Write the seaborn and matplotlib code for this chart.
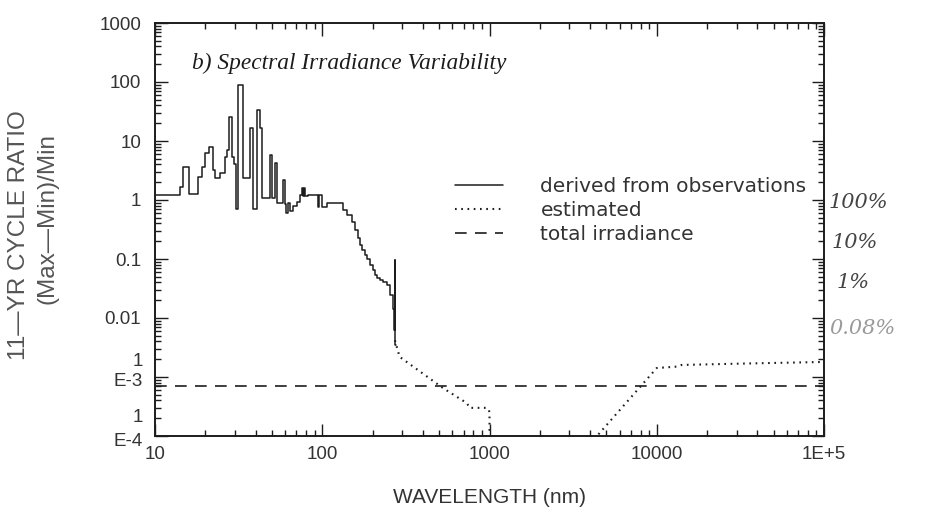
import matplotlib
matplotlib.use("Agg")
import matplotlib.pyplot as plt
from matplotlib.lines import Line2D
from matplotlib.transforms import offset_copy
from matplotlib.ticker import LogLocator, FixedLocator, FixedFormatter, NullFormatter
import seaborn as sns

# ---------------- data ----------------
obs_wavelength = [10.0, 14.1, 14.7, 16.0, 18.1, 19.1, 19.9, 21.0, 22.2, 22.8,
                  24.5, 26.2, 26.9, 27.7, 28.9, 29.6, 30.5, 31.4, 33.6, 37.0,
                  38.7, 40.7, 42.5, 43.6, 48.7, 50.1, 52.2, 53.6, 58.3, 59.9,
                  61.0, 62.0, 64.2, 66.9, 70.6, 73.6, 75.7, 76.5, 77.8, 78.5,
                  82.2, 94.3, 96.0, 99.7, 101, 107, 133, 141, 151, 157,
                  164, 168, 173, 180, 185, 193, 201, 207, 213, 221,
                  231, 244, 254, 265, 269, 271.0, 271.6, 272.5, 276]
obs_ratio = [1.22, 1.66, 3.6, 1.26, 2.46, 3.6, 6.3, 7.9, 3.2, 2.36,
             2.87, 5.4, 7.0, 25.5, 5.4, 4.0, 0.7, 89, 2.36, 16.6,
             0.7, 33.5, 16.6, 1.1, 5.8, 1.1, 4.2, 0.9, 2.2, 0.85,
             0.6, 0.9, 0.65, 0.8, 0.92, 1.2, 1.6, 1.15, 1.6, 1.15,
             1.2, 0.76, 1.2, 0.76, 0.76, 0.89, 0.68, 0.56, 0.42, 0.31,
             0.23, 0.17, 0.14, 0.117, 0.1, 0.08, 0.065, 0.054, 0.048, 0.044,
             0.041, 0.036, 0.025, 0.014, 0.0063, 0.098, 0.005, 0.0035, 0.0035]

est_uv_wavelength = [272, 290, 527, 733, 760, 960, 990, 1000, 1001]
est_uv_ratio = [0.0042, 0.0022, 6.5e-4, 3.6e-4, 3.0e-4, 3.0e-4, 2.8e-4, 2.5e-4, 5e-5]

est_ir_wavelength = [4000, 7730, 10000, 13200, 14100, 30000, 100000]
est_ir_ratio = [7.4e-5, 6.2e-4, 1.42e-3, 1.5e-3, 1.6e-3, 1.68e-3, 1.8e-3]

total_wavelength = [10, 100000]
total_ratio = [7.0e-4, 7.0e-4]

xtick_values = [10, 100, 1000, 10000, 100000]
xtick_labels = ["10", "100", "1000", "10000", "1E+5"]
ytick_values = [1e-4, 1e-3, 1e-2, 1e-1, 1, 10, 100, 1000]
ytick_labels = ["", "", "0.01", "0.1", "1", "10", "100", "1000"]
small_tick_values = [1e-3, 1e-4]
small_tick_mantissa = ["1", "1"]
small_tick_exponent = ["E-3", "E-4"]

legend_labels = ["derived from observations", "estimated", "total irradiance"]
note_labels = ["100%", "10%", "1%", "0.08%"]

title_text = "b) Spectral Irradiance Variability"
xlabel_text = "WAVELENGTH (nm)"
ylabel_line1 = "11\u2014YR CYCLE RATIO"
ylabel_line2 = "(Max\u2014Min)/Min"

# ---------------- figure ----------------
sns.set_theme(style="white")
plt.rcParams["font.family"] = ["Liberation Sans", "DejaVu Sans"]

W, H = 939, 525
fig = plt.figure(figsize=(W / 100, H / 100), dpi=100)
fig.patch.set_facecolor("white")
L, R, T, B = 155, 824, 23, 436
ax = fig.add_axes([L / W, 1 - B / H, (R - L) / W, (B - T) / H])
ax.set_facecolor("white")

ink = "#1c1c1c"
txt = "#333333"
dotted = (0, (0.8, 2.2))
dashed = (0, (7, 5))

ax.set_xscale("log")
ax.set_yscale("log")

sns.lineplot(x=obs_wavelength, y=obs_ratio, ax=ax, color=ink, lw=1.1,
             drawstyle="steps-post", estimator=None, sort=False)
sns.lineplot(x=est_uv_wavelength, y=est_uv_ratio, ax=ax, color=ink, lw=1.5,
             linestyle=dotted, estimator=None, sort=False)
sns.lineplot(x=est_ir_wavelength, y=est_ir_ratio, ax=ax, color=ink, lw=1.5,
             linestyle=dotted, estimator=None, sort=False)
sns.lineplot(x=total_wavelength, y=total_ratio, ax=ax, color=ink, lw=1.2,
             linestyle=dashed, estimator=None, sort=False)

ax.set_xlim(10, 1e5)
ax.set_ylim(1e-4, 1000)

for s in ax.spines.values():
    s.set_color(ink)
    s.set_linewidth(1.4)

ax.xaxis.set_major_locator(FixedLocator(xtick_values))
ax.xaxis.set_major_formatter(FixedFormatter(xtick_labels))
ax.xaxis.set_minor_locator(LogLocator(base=10, subs=range(2, 10), numticks=50))
ax.xaxis.set_minor_formatter(NullFormatter())
ax.yaxis.set_major_locator(FixedLocator(ytick_values))
ax.yaxis.set_major_formatter(FixedFormatter(ytick_labels))
ax.yaxis.set_minor_locator(LogLocator(base=10, subs=range(2, 10), numticks=50))
ax.yaxis.set_minor_formatter(NullFormatter())

ax.tick_params(which="both", direction="in", top=True, right=True,
               bottom=True, left=True, color=ink, width=1.0)
ax.tick_params(which="major", length=9)
ax.tick_params(which="minor", length=4.5)
ax.tick_params(axis="x", which="major", labelsize=13.5, pad=7, labelcolor=txt)
ax.tick_params(axis="y", which="major", labelsize=13.5, pad=10, labelcolor=txt)

# two-line "1 / E-n" labels of the lowest decades
ytr = ax.get_yaxis_transform()
for val, man, ex in zip(small_tick_values, small_tick_mantissa, small_tick_exponent):
    dy_man = 16 if val == 1e-3 else 19
    dy_ex = -5 if val == 1e-3 else -5
    ax.text(0, val, man, transform=offset_copy(ytr, fig, x=-12, y=dy_man, units="dots"),
            ha="right", va="center", fontsize=13.5, color=txt)
    ax.text(0, val, ex, transform=offset_copy(ytr, fig, x=-12, y=dy_ex, units="dots"),
            ha="right", va="center", fontsize=13.5, color=txt)

ax.set_xlabel(xlabel_text, fontsize=15, color=txt, labelpad=18)
ax.set_ylabel("")

ax.text(0.055, 0.903, title_text, transform=ax.transAxes, fontsize=16.8,
        family=["Liberation Serif", "DejaVu Serif"], style="italic",
        color=ink, va="center", ha="left")

fig.text(19 / W, 1 - 235 / H, ylabel_line1, rotation=90, fontsize=17.5,
         color="#555555", ha="center", va="center")
fig.text(48 / W, 1 - 219 / H, ylabel_line2, rotation=90, fontsize=17.5,
         color="#555555", ha="center", va="center")

handles = [Line2D([], [], color=ink, lw=1.1),
           Line2D([], [], color=ink, lw=1.5, linestyle=dotted),
           Line2D([], [], color=ink, lw=1.2, linestyle=dashed)]
leg = ax.legend(handles, legend_labels, loc="upper left",
                bbox_to_anchor=(455 / W, 1 - 177 / H),
                bbox_transform=fig.transFigure, frameon=False,
                fontsize=14.5, handlelength=2.4, handletextpad=1.84,
                labelspacing=0.24, borderpad=0, borderaxespad=0)
for t in leg.get_texts():
    t.set_color(txt)
    t.set_family(["DejaVu Sans"])

note_pos = [(858, 203, "#444444"), (855, 243, "#444444"), (853, 283, "#444444"),
            (862, 328, "#9a9a9a")]
for lab, (px, py, c) in zip(note_labels, note_pos):
    fig.text(px / W, 1 - py / H, lab, fontsize=15, style="italic",
             family=["DejaVu Serif"], color=c, ha="center", va="center")

fig.savefig("out.png", dpi=100, facecolor="white")
